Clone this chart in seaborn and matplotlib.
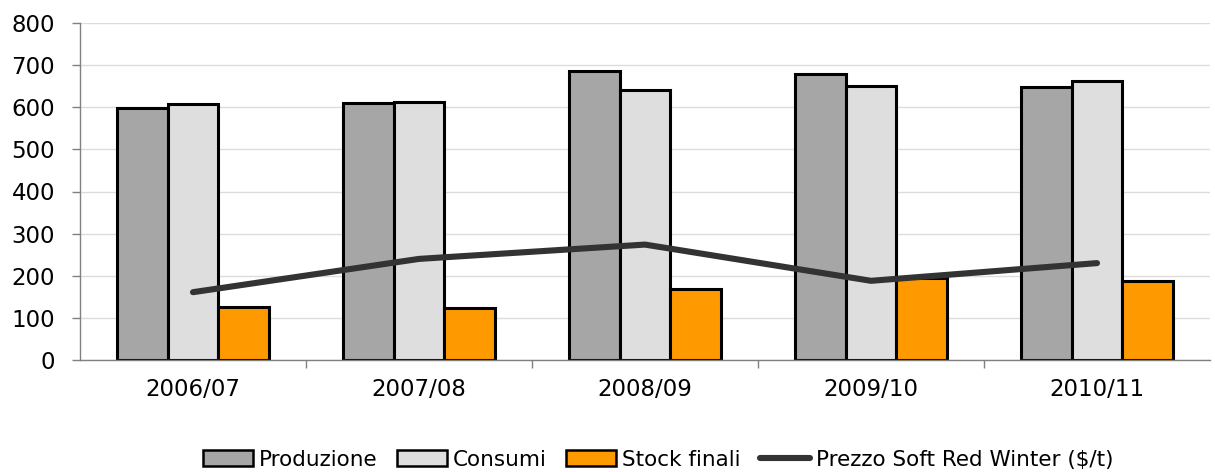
import numpy as np
import pandas as pd
import seaborn as sns
import matplotlib.pyplot as plt
from matplotlib.patches import Patch
from matplotlib.lines import Line2D

# Campagne di commercializzazione
campagne = ["2006/07", "2007/08", "2008/09", "2009/10", "2010/11"]

# Valori (milioni di t)
produzione = [598, 610, 687, 679, 648]
consumi = [608, 613, 640, 650, 662]
stock_finali = [126, 123, 169, 195, 187]

# Prezzo Soft Red Winter ($/t)
prezzo_srw = [161, 240, 274, 188, 230]

serie = ["Produzione", "Consumi", "Stock finali"]
colori = {"Produzione": "#a6a6a6", "Consumi": "#dedede", "Stock finali": "#ff9900"}
colore_linea = "#333333"

df = pd.DataFrame({
    "campagna": campagne * 3,
    "serie": [s for s in serie for _ in campagne],
    "valore": produzione + consumi + stock_finali,
})
df_prezzo = pd.DataFrame({"campagna": campagne, "prezzo": prezzo_srw})

sns.set_theme(style="white")
plt.rcParams["font.family"] = ["DejaVu Sans"]

fig = plt.figure(figsize=(12.15, 4.72), dpi=100)
ax = fig.add_axes([80 / 1215, 112 / 472, 1130 / 1215, 337 / 472])

sns.barplot(data=df, x="campagna", y="valore", hue="serie", order=campagne,
            hue_order=serie, palette=colori, width=0.67, gap=0,
            edgecolor="black", linewidth=2.2, saturation=1, legend=False,
            ax=ax, zorder=2)

sns.pointplot(data=df_prezzo, x="campagna", y="prezzo", order=campagne,
              color=colore_linea, markers="", linestyles="-", linewidth=4.4,
              ax=ax, zorder=3)
for ln in ax.lines:
    ln.set_solid_capstyle("round")
    ln.set_solid_joinstyle("round")

ax.set_xlim(-0.5, len(campagne) - 0.5)
ax.set_ylim(0, 800)
ax.set_yticks(np.arange(0, 801, 100))
ax.yaxis.grid(True, color="#dcdcdc", linewidth=1.0, zorder=0)
ax.set_axisbelow(True)
ax.set_xlabel("")
ax.set_ylabel("")

for side in ("top", "right"):
    ax.spines[side].set_visible(False)
for side in ("left", "bottom"):
    ax.spines[side].set_color("#808080")
    ax.spines[side].set_linewidth(1.0)

ax.tick_params(axis="y", which="major", direction="out", length=6, width=1,
               color="#808080", pad=12, labelsize=16.5, labelcolor="black",
               left=True)
ax.tick_params(axis="x", which="major", length=0, pad=13, labelsize=16.5,
               labelcolor="black")
ax.set_xticks(np.arange(0.5, len(campagne) - 0.5), minor=True)
ax.tick_params(axis="x", which="minor", direction="out", length=6, width=1,
               color="#808080", bottom=True)

handles = [Patch(facecolor=colori[s], edgecolor="black", linewidth=1.8) for s in serie]
handles.append(Line2D([], [], color=colore_linea, linewidth=4.4, solid_capstyle="round"))
labels = serie + ["Prezzo Soft Red Winter ($/t)"]
fig.legend(handles, labels, loc="center", bbox_to_anchor=(0.542, 0.026),
           ncol=4, frameon=False, fontsize=15.5, labelcolor="black",
           handlelength=2.3, handleheight=0.75, handletextpad=0.3,
           columnspacing=0.9)

fig.savefig("out.png", dpi=100, facecolor="white")
